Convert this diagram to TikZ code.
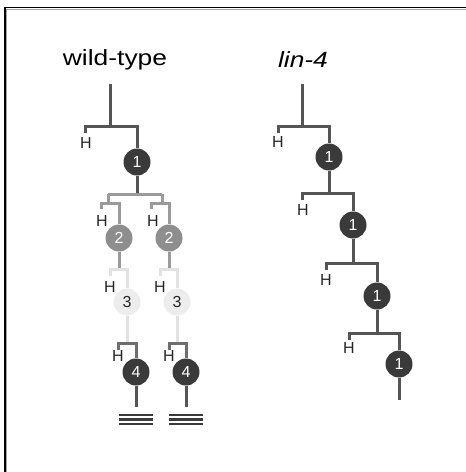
\documentclass[tikz,border=0pt]{standalone}
\usepackage{fontspec}
\setmainfont{Liberation Sans}
\definecolor{dk}{HTML}{555555}
\definecolor{md}{HTML}{9A9A9A}
\definecolor{lt}{HTML}{E2E2E2}
\definecolor{cdk}{HTML}{3A3A3A}
\definecolor{cmd}{HTML}{8E8E8E}
\definecolor{clt}{HTML}{EDEDED}
\tikzset{
  br/.style={line width=3pt, draw=#1},
  cell/.style={circle, minimum size=27pt, inner sep=0pt, fill=#1, text=white,
    font=\fontsize{16}{18}\selectfont},
  hl/.style={inner sep=0pt, font=\fontsize{16}{18}\selectfont, text=black!85},
  ttl/.style={inner sep=0pt, font=\fontsize{22}{26}\selectfont},
}
\begin{document}
\begin{tikzpicture}[x=1pt,y=-1pt]
\useasboundingbox (0,0) rectangle (466,472);
% frame (top and left edges)
\draw[line width=1.6pt, black] (5,472) -- (5,7.3) -- (466,7.3);
\draw[line width=0.8pt, black!35] (6.6,472) -- (6.6,8.9) -- (466,8.9);

% titles
\node[ttl] (wt) at (115,60) {\scalebox{1.2}[1]{wild-type}};
\node[ttl] (lf) at (303,60) {\scalebox{1.2}[1]{\itshape lin-4}};

%% ---------------- wild-type ----------------
\coordinate (w0) at (110,84);
\coordinate (w0j) at (110,126);
\coordinate (w0a) at (85,126);
\coordinate (w0s) at (85,133);
\coordinate (w0b) at (137,126);
\node[cell=cdk] (w1) at (137,162) {1};
\node[hl] (wH1) at (86,143) {H};
\draw[br=dk] (w0) -- (w0j);
\draw[br=dk] (w0s) -- (w0a) -- (w0b) -- (w1);

% division of 1
\coordinate (w1j) at (137,194);
\coordinate (w1l) at (108,194);
\coordinate (w1r) at (162,194);
\draw[br=dk] (w1) -- (w1j);
\draw[br=md] (w1l) -- (w1r);

% left daughter
\coordinate (wLj) at (108,203);
\coordinate (wLa) at (101,203);
\coordinate (wLs) at (101,209);
\coordinate (wLb) at (119,203);
\node[cell=cmd] (w2L) at (119,238) {2};
\node[hl] (wH2L) at (102,221) {H};
\draw[br=md] (w1l) -- (wLj);
\draw[br=md] (wLs) -- (wLa) -- (wLb) -- (w2L);
% right daughter
\coordinate (wRj) at (162,203);
\coordinate (wRa) at (151,203);
\coordinate (wRs) at (151,209);
\coordinate (wRb) at (169,203);
\node[cell=cmd] (w2R) at (169,238) {2};
\node[hl] (wH2R) at (153,221) {H};
\draw[br=md] (w1r) -- (wRj);
\draw[br=md] (wRs) -- (wRa) -- (wRb) -- (w2R);

% gen 3 left
\coordinate (w2Lj) at (119,269);
\coordinate (w2La) at (110,269);
\coordinate (w2Ls) at (110,276);
\coordinate (w2Lb) at (127,269);
\node[cell=clt, text=black!85] (w3L) at (127,302) {3};
\node[hl] (wH3L) at (110,287) {H};
\draw[br=md] (w2L) -- (w2Lj);
\draw[br=lt] (w2Ls) -- (w2La) -- (w2Lb) -- (w3L);
% gen 3 right
\coordinate (w2Rj) at (169,269);
\coordinate (w2Ra) at (160,269);
\coordinate (w2Rs) at (160,276);
\coordinate (w2Rb) at (177,269);
\node[cell=clt, text=black!85] (w3R) at (177,302) {3};
\node[hl] (wH3R) at (160,287) {H};
\draw[br=md] (w2R) -- (w2Rj);
\draw[br=lt] (w2Rs) -- (w2Ra) -- (w2Rb) -- (w3R);

% gen 4 left
\coordinate (w3Lj) at (127,343);
\coordinate (w3La) at (118,343);
\coordinate (w3Ls) at (118,350);
\coordinate (w3Lb) at (136,343);
\node[cell=cdk] (w4L) at (136,372) {4};
\node[hl] (wH4L) at (118,356) {H};
\coordinate (w4Le) at (136,407);
\draw[br=lt] (w3L) -- (w3Lj);
\draw[br=dk!85] (w3Ls) -- (w3La) -- (w3Lb) -- (w4L);
\draw[br=dk] (w4L) -- (w4Le);
% gen 4 right
\coordinate (w3Rj) at (177,343);
\coordinate (w3Ra) at (169,343);
\coordinate (w3Rs) at (169,350);
\coordinate (w3Rb) at (186,343);
\node[cell=cdk] (w4R) at (186,372) {4};
\node[hl] (wH4R) at (169,356) {H};
\coordinate (w4Re) at (186,407);
\draw[br=lt] (w3R) -- (w3Rj);
\draw[br=dk!85] (w3Rs) -- (w3Ra) -- (w3Rb) -- (w4R);
\draw[br=dk] (w4R) -- (w4Re);

% adult seam marks
\foreach \yy in {415,419.5,424}{
  \draw[line width=2.4pt, cdk] (119,\yy) -- (153,\yy);
  \draw[line width=2.4pt, cdk] (169,\yy) -- (203,\yy);
}

%% ---------------- lin-4 ----------------
\coordinate (l0) at (302,84);
\coordinate (l0j) at (302,126);
\coordinate (l0a) at (278,126);
\coordinate (l0s) at (278,133);
\coordinate (l0b) at (329,126);
\node[cell=cdk] (la) at (329,157) {1};
\node[hl] (lH1) at (278,142) {H};
\draw[br=dk] (l0) -- (l0j);
\draw[br=dk] (l0s) -- (l0a) -- (l0b) -- (la);

\coordinate (laj) at (329,193);
\coordinate (laa) at (302,193);
\coordinate (las) at (302,200);
\coordinate (lab) at (353,193);
\node[cell=cdk] (lb) at (353,225) {1};
\node[hl] (lH2) at (303,210) {H};
\draw[br=dk] (la) -- (laj);
\draw[br=dk] (las) -- (laa) -- (lab) -- (lb);

\coordinate (lbj) at (353,263);
\coordinate (lba) at (326,263);
\coordinate (lbs) at (326,270);
\coordinate (lbb) at (377,263);
\node[cell=cdk] (lc) at (377,296) {1};
\node[hl] (lH3) at (326,280) {H};
\draw[br=dk] (lb) -- (lbj);
\draw[br=dk] (lbs) -- (lba) -- (lbb) -- (lc);

\coordinate (lcj) at (377,333);
\coordinate (lca) at (349,333);
\coordinate (lcs) at (349,340);
\coordinate (lcb) at (399,333);
\node[cell=cdk] (ld) at (399,364) {1};
\node[hl] (lH4) at (349,348) {H};
\coordinate (lde) at (399,400);
\draw[br=dk] (lc) -- (lcj);
\draw[br=dk] (lcs) -- (lca) -- (lcb) -- (ld);
\draw[br=dk] (ld) -- (lde);
\end{tikzpicture}
\end{document}
